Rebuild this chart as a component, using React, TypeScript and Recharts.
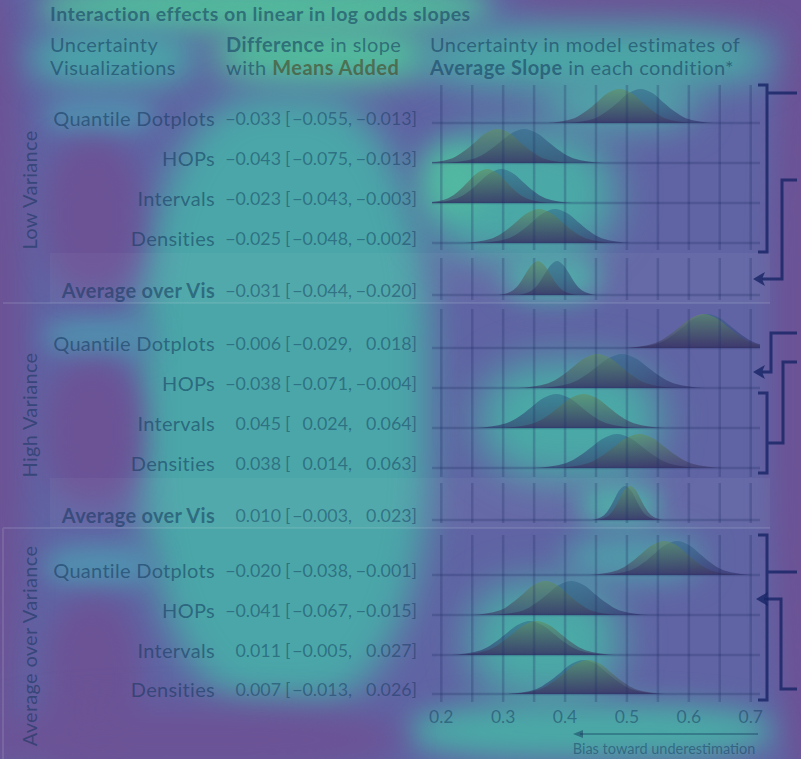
import React from "react";
import { ComposedChart, Area, XAxis, YAxis, ReferenceLine } from "recharts";

// rows, top to bottom
const ROW_LABELS = [
  "Quantile Dotplots", "HOPs", "Intervals", "Densities", "Average over Vis",
  "Quantile Dotplots", "HOPs", "Intervals", "Densities", "Average over Vis",
  "Quantile Dotplots", "HOPs", "Intervals", "Densities",
];
const SECTION_LABELS = ["Low Variance", "High Variance", "Average over Variance"];

// difference in slope with means added: estimate [low, high]
const DIFF_EST = [-0.033, -0.043, -0.023, -0.025, -0.031, -0.006, -0.038, 0.045, 0.038, 0.01, -0.02, -0.041, 0.011, 0.007];
const DIFF_LOW = [-0.055, -0.075, -0.043, -0.048, -0.044, -0.029, -0.071, 0.024, 0.014, -0.003, -0.038, -0.067, -0.005, -0.013];
const DIFF_HIGH = [-0.013, -0.013, -0.003, -0.002, -0.02, 0.018, -0.004, 0.064, 0.063, 0.023, -0.001, -0.015, 0.027, 0.026];

const AXIS_TICKS = [0.2, 0.3, 0.4, 0.5, 0.6, 0.7];
const GRID_TICKS = [0.2, 0.25, 0.3, 0.35, 0.4, 0.45, 0.5, 0.55, 0.6, 0.65, 0.7];

// density heights (relative to peak) at which the x positions below were read
const DENSITY_LEVELS = [0, 0.14, 0.35, 0.62, 0.88, 1, 0.88, 0.62, 0.35, 0.14, 0];

// average slope, with means added
const MEANS_ADDED_X = [
  [0.37, 0.415, 0.434, 0.452, 0.469, 0.488, 0.507, 0.524, 0.542, 0.561, 0.606],
  [0.173, 0.218, 0.237, 0.255, 0.272, 0.291, 0.31, 0.327, 0.345, 0.364, 0.409],
  [0.172, 0.211, 0.228, 0.243, 0.258, 0.274, 0.29, 0.305, 0.32, 0.337, 0.376],
  [0.236, 0.283, 0.303, 0.321, 0.339, 0.358, 0.377, 0.395, 0.413, 0.433, 0.48],
  [0.292, 0.316, 0.327, 0.336, 0.346, 0.356, 0.366, 0.376, 0.385, 0.396, 0.42],
  [0.496, 0.545, 0.566, 0.585, 0.604, 0.624, 0.644, 0.663, 0.682, 0.703, 0.752],
  [0.324, 0.373, 0.394, 0.413, 0.432, 0.452, 0.472, 0.491, 0.51, 0.531, 0.58],
  [0.299, 0.349, 0.371, 0.39, 0.409, 0.43, 0.451, 0.47, 0.489, 0.511, 0.561],
  [0.386, 0.437, 0.459, 0.479, 0.499, 0.52, 0.541, 0.561, 0.581, 0.603, 0.654],
  [0.451, 0.471, 0.48, 0.488, 0.496, 0.505, 0.514, 0.522, 0.53, 0.539, 0.559],
  [0.438, 0.485, 0.505, 0.523, 0.541, 0.56, 0.579, 0.597, 0.615, 0.635, 0.682],
  [0.25, 0.295, 0.314, 0.332, 0.349, 0.368, 0.387, 0.404, 0.422, 0.441, 0.486],
  [0.226, 0.275, 0.296, 0.315, 0.334, 0.354, 0.374, 0.393, 0.412, 0.433, 0.482],
  [0.312, 0.36, 0.38, 0.399, 0.417, 0.437, 0.457, 0.475, 0.494, 0.514, 0.562],
];

// average slope, no means
const NO_MEANS_X = [
  [0.404, 0.449, 0.468, 0.486, 0.503, 0.522, 0.541, 0.558, 0.576, 0.595, 0.64],
  [0.206, 0.255, 0.276, 0.295, 0.314, 0.334, 0.354, 0.373, 0.392, 0.413, 0.462],
  [0.182, 0.226, 0.245, 0.262, 0.279, 0.297, 0.315, 0.332, 0.349, 0.368, 0.412],
  [0.262, 0.309, 0.329, 0.347, 0.365, 0.384, 0.403, 0.421, 0.439, 0.459, 0.506],
  [0.323, 0.347, 0.358, 0.367, 0.377, 0.387, 0.397, 0.407, 0.416, 0.427, 0.451],
  [0.502, 0.551, 0.572, 0.591, 0.61, 0.63, 0.65, 0.669, 0.688, 0.709, 0.758],
  [0.358, 0.409, 0.431, 0.451, 0.471, 0.492, 0.513, 0.533, 0.553, 0.575, 0.626],
  [0.255, 0.305, 0.327, 0.346, 0.365, 0.386, 0.407, 0.426, 0.445, 0.467, 0.517],
  [0.35, 0.401, 0.423, 0.443, 0.463, 0.484, 0.505, 0.525, 0.545, 0.567, 0.618],
  [0.443, 0.463, 0.472, 0.48, 0.488, 0.497, 0.506, 0.514, 0.522, 0.531, 0.551],
  [0.459, 0.506, 0.526, 0.544, 0.562, 0.581, 0.6, 0.618, 0.636, 0.656, 0.703],
  [0.285, 0.333, 0.353, 0.372, 0.39, 0.41, 0.43, 0.448, 0.467, 0.487, 0.535],
  [0.215, 0.264, 0.285, 0.304, 0.323, 0.343, 0.363, 0.382, 0.401, 0.422, 0.471],
  [0.305, 0.353, 0.373, 0.392, 0.41, 0.43, 0.45, 0.468, 0.487, 0.507, 0.555],
];

// layout (row units, 1 = 40px)
const ROW_SLOT = [0, 1, 2, 3, 4.3, 5.625, 6.625, 7.625, 8.625, 9.925, 11.3, 12.3, 13.3, 14.275];
const GRID_BANDS = [[-0.95, 3.175], [3.375, 4.425], [4.65, 8.85], [9.0, 10.0], [10.3, 14.475]];
const SECTION_CENTER = [190, 415, 646];
const PEAK = 0.85;
const AVG_ROWS = [4, 9];

const INK = "rgba(12,48,86,0.52)";
const INK_SOFT = "rgba(12,48,86,0.46)";
const GRID = "rgba(30,45,100,0.26)";
const NAVY = "rgba(20,35,100,0.78)";

const rowY = (r: number) => 123 + ROW_SLOT[r] * 40;
const fmt = (v: number) => (v < 0 ? "\u2212" : "") + Math.abs(v).toFixed(3);

const data: any[] = [];
ROW_SLOT.forEach((slot, r) => {
  MEANS_ADDED_X[r].forEach((x, i) => data.push({ x, ["m" + r]: slot - DENSITY_LEVELS[i] * PEAK }));
  NO_MEANS_X[r].forEach((x, i) => data.push({ x, ["n" + r]: slot - DENSITY_LEVELS[i] * PEAK }));
});

// saliency overlay blobs
const BLOBS = [
  { x: -40, y: -20, w: 65, h: 800, c: "#6b5396", b: 14 },
  { x: 510, y: -40, w: 330, h: 75, c: "#6b5396", b: 18 },
  { x: 772, y: -20, w: 70, h: 800, c: "#6b5396", b: 12 },
  { x: 40, y: -18, w: 450, h: 50, c: "#52bb9c", b: 14 },
  { x: 30, y: 28, w: 165, h: 60, c: "#4aa3a8", b: 16 },
  { x: 215, y: 24, w: 215, h: 62, c: "#52bb9c", b: 16 },
  { x: 420, y: 26, w: 350, h: 64, c: "#4aa9a6", b: 18 },
  { x: 140, y: 95, w: 290, h: 610, c: "#4aa6a8", b: 18 },
  { x: 45, y: 98, w: 110, h: 36, c: "#518fae", b: 12 },
  { x: 45, y: 318, w: 110, h: 38, c: "#518fae", b: 12 },
  { x: 45, y: 545, w: 110, h: 42, c: "#518fae", b: 12 },
  { x: 45, y: 140, w: 95, h: 150, c: "#6b5396", b: 14 },
  { x: 45, y: 362, w: 95, h: 140, c: "#6b5396", b: 14 },
  { x: 45, y: 598, w: 95, h: 170, c: "#6b5396", b: 14 },
  { x: 425, y: 130, w: 190, h: 130, c: "#4aa9a6", b: 20 },
  { x: 425, y: 145, w: 60, h: 70, c: "#52b8a0", b: 14 },
  { x: 545, y: 78, w: 150, h: 50, c: "#4fa6a8", b: 18 },
  { x: 505, y: 255, w: 95, h: 45, c: "#4aa9a6", b: 14 },
  { x: 480, y: 360, w: 180, h: 120, c: "#4aa9a6", b: 20 },
  { x: 580, y: 485, w: 80, h: 40, c: "#4aa9a6", b: 12 },
  { x: 470, y: 582, w: 150, h: 118, c: "#4aa9a6", b: 20 },
  { x: 565, y: 535, w: 135, h: 45, c: "#4f9eaa", b: 16 },
  { x: 410, y: 703, w: 360, h: 56, c: "#4aa9a6", b: 14 },
  { x: -20, y: 705, w: 420, h: 70, c: "#6b5396", b: 16 },
];

const SectionBrackets = () => (
  <g fill="none" stroke={NAVY} strokeWidth={3}>
    <path d="M758,85 H767 V252 H758 M767,93 H797" />
    <path d="M797,180 H782 V279 H762" />
    <path d="M797,333 H771 V372 H762" />
    <path d="M797,362 H783 V443 H767 M758,393 H767 V473 H758" />
    <path d="M758,535 H767 V700 H758 M767,572 H797" />
    <path d="M797,689 H781 V599 H764" />
    <g fill={NAVY} stroke="none">
      <polygon points="753,279 765,272 762,279 765,286" />
      <polygon points="753,372 765,365 762,372 765,379" />
      <polygon points="756,599 768,592 765,599 768,606" />
    </g>
  </g>
);

export default function App() {
  return (
    <div style={{ position: "absolute", left: 0, top: 0, width: 801, height: 759, overflow: "hidden", background: "#6064a4", fontFamily: "Lato" }}>
      {BLOBS.map((b, i) => (
        <div key={i} style={{ position: "absolute", left: b.x, top: b.y, width: b.w, height: b.h, background: b.c, borderRadius: "40%", filter: `blur(${b.b}px)` }} />
      ))}
      <svg width={801} height={759} style={{ position: "absolute", left: 0, top: 0 }}>
        <rect x={50} y={253} width={720} height={50} fill="rgba(255,255,255,0.04)" />
        <rect x={50} y={478} width={720} height={50} fill="rgba(255,255,255,0.04)" />
        <path d="M3,303 H770 M3,528 H770 M3,528 V759" stroke="rgba(210,225,235,0.13)" strokeWidth={2} fill="none" />
      </svg>
      <div style={{ position: "absolute", left: 0, top: 0 }}>
        <ComposedChart width={801} height={759} data={data} margin={{ top: 80, left: 432, right: 41, bottom: 24 }} style={{ fontFamily: "Lato" }}>
          <defs>
            <linearGradient id="gMeans" x1="0" y1="0" x2="0" y2="1">
              <stop offset="0%" stopColor="#62905e" stopOpacity={0.58} />
              <stop offset="100%" stopColor="#3a3062" stopOpacity={0.58} />
            </linearGradient>
            <linearGradient id="gNone" x1="0" y1="0" x2="0" y2="1">
              <stop offset="0%" stopColor="#2f6488" stopOpacity={0.5} />
              <stop offset="100%" stopColor="#2c2660" stopOpacity={0.55} />
            </linearGradient>
          </defs>
          <XAxis dataKey="x" type="number" domain={[0.185, 0.715]} allowDataOverflow ticks={AXIS_TICKS} interval={0}
            tickFormatter={(v: number) => v.toFixed(1)} tickLine={false} axisLine={false} tickSize={4} height={30}
            tick={{ fill: INK_SOFT, fontSize: 17.5 }} />
          <YAxis type="number" domain={[-1.075, 14.55]} reversed hide allowDataOverflow />
          {GRID_BANDS.map((band, s) =>
            GRID_TICKS.map((t) => (
              <ReferenceLine key={`v${s}-${t}`} segment={[{ x: t, y: band[0] }, { x: t, y: band[1] }]} stroke={GRID} strokeWidth={2.5} />
            ))
          )}
          {ROW_SLOT.map((slot, r) => (
            <ReferenceLine key={`h${r}`} y={slot} stroke={GRID} strokeWidth={2.5} />
          ))}
          {ROW_SLOT.map((slot, r) => (
            <Area key={`n${r}`} dataKey={`n${r}`} baseValue={slot} type="monotone" connectNulls stroke="none"
              fill="url(#gNone)" fillOpacity={1} dot={false} activeDot={false} isAnimationActive={false} />
          ))}
          {ROW_SLOT.map((slot, r) => (
            <Area key={`m${r}`} dataKey={`m${r}`} baseValue={slot} type="monotone" connectNulls stroke="none"
              fill="url(#gMeans)" fillOpacity={1} dot={false} activeDot={false} isAnimationActive={false} />
          ))}
        </ComposedChart>
      </div>
      <svg width={801} height={759} style={{ position: "absolute", left: 0, top: 0, fontFamily: "Lato" }}>
        <text x={50} y={13} dominantBaseline="central" fontSize={19.5} letterSpacing={0.5} fontWeight={700} fill={INK}>
          Interaction effects on linear in log odds slopes
        </text>
        <g fontSize={20} letterSpacing={0.45} fill={INK} dominantBaseline="central">
          <text x={50} y={44}>Uncertainty</text>
          <text x={50} y={67}>Visualizations</text>
          <text x={226} y={44}><tspan fontWeight={700}>Difference</tspan> in slope</text>
          <text x={226} y={67}>with <tspan fontWeight={700} fill="rgba(72,62,22,0.58)">Means Added</tspan></text>
          <text x={430} y={44}>Uncertainty in model estimates of</text>
          <text x={430} y={67}><tspan fontWeight={700}>Average Slope</tspan> in each condition*</text>
        </g>
        {SECTION_LABELS.map((s, i) => (
          <text key={s} transform={`translate(29,${SECTION_CENTER[i]}) rotate(-90)`} textAnchor="middle" dominantBaseline="central"
            fontSize={20} letterSpacing={0.3} fill={INK}>
            {s}
          </text>
        ))}
        {ROW_LABELS.map((label, r) => {
          const y = rowY(r) - 5;
          return (
            <g key={r} dominantBaseline="central" fill={INK}>
              <text x={215} y={y} textAnchor="end" fontSize={20} letterSpacing={0.3} fontWeight={AVG_ROWS.includes(r) ? 700 : 400}>{label}</text>
              <g fontSize={17.8} fill={INK_SOFT}>
                <text x={281} y={y} textAnchor="end">{fmt(DIFF_EST[r])}</text>
                <text x={285} y={y}>[</text>
                <text x={352} y={y} textAnchor="end">{fmt(DIFF_LOW[r])},</text>
                <text x={417} y={y} textAnchor="end">{fmt(DIFF_HIGH[r])}]</text>
              </g>
            </g>
          );
        })}
        <SectionBrackets />
        <line x1={758} y1={734} x2={580} y2={734} stroke={INK_SOFT} strokeWidth={1.5} />
        <polygon points="573,734 583,730 583,738" fill={INK_SOFT} />
        <text x={664} y={748} textAnchor="middle" dominantBaseline="central" fontSize={14.5} fill={INK_SOFT}>
          Bias toward underestimation
        </text>
      </svg>
    </div>
  );
}
